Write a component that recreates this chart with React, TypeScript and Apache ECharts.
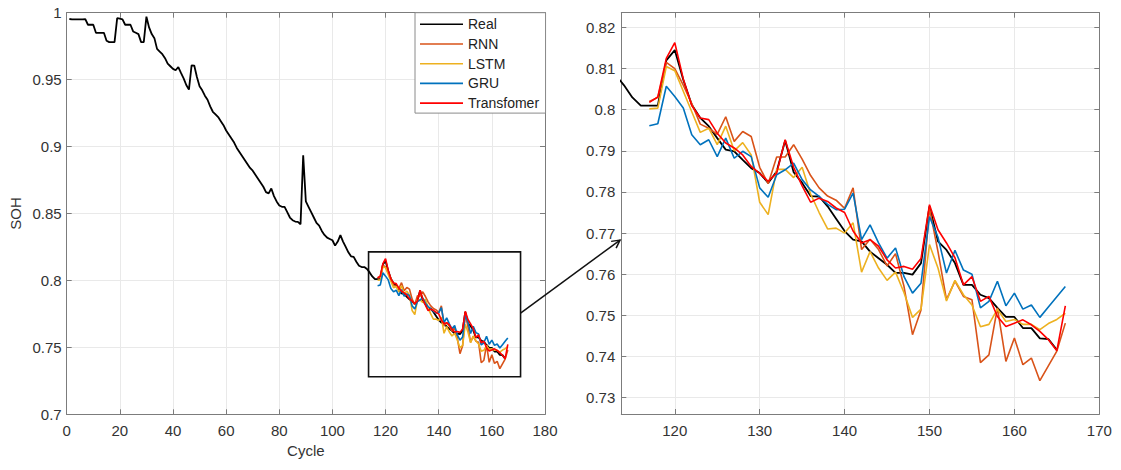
import React, { useEffect, useRef } from "react";
import * as echarts from "echarts";

// ---------- data ----------
const seriesNames = ["Real", "RNN", "LSTM", "GRU", "Transfomer"];
const seriesColors = ["#000000", "#D95319", "#EDB120", "#0072BD", "#FF0000"];

const realStartCycle = 1;
const predStartCycle = 117;

// measured SOH, cycles 1..165
const realSOH = [
  0.9953, 0.995, 0.995, 0.995, 0.995, 0.995, 0.9952, 0.991, 0.991, 0.991,
  0.985, 0.985, 0.985, 0.985, 0.979, 0.978, 0.978, 0.978, 0.996, 0.9955,
  0.995, 0.991, 0.991, 0.991, 0.986, 0.985, 0.984, 0.978, 0.978, 0.997,
  0.989, 0.984, 0.981, 0.973, 0.971, 0.969, 0.966, 0.962, 0.96, 0.958,
  0.957, 0.9594, 0.955, 0.951, 0.946, 0.9425, 0.9607, 0.9605, 0.952, 0.945,
  0.942, 0.938, 0.935, 0.93, 0.926, 0.924, 0.922, 0.919, 0.916, 0.912,
  0.909, 0.906, 0.903, 0.899, 0.896, 0.893, 0.89, 0.887, 0.884, 0.882,
  0.879, 0.876, 0.873, 0.87, 0.866, 0.865, 0.8687, 0.863, 0.859, 0.856,
  0.855, 0.855, 0.851, 0.847, 0.845, 0.844, 0.8437, 0.842, 0.8935, 0.859,
  0.855, 0.851, 0.847, 0.843, 0.841, 0.837, 0.834, 0.832, 0.831, 0.83,
  0.826, 0.829, 0.8338, 0.829, 0.825, 0.821, 0.818, 0.8176, 0.814, 0.811,
  0.81, 0.81, 0.8085, 0.806, 0.803, 0.801, 0.801, 0.801, 0.812, 0.8145,
  0.8073, 0.8012, 0.798, 0.796, 0.7931, 0.7903, 0.7899, 0.7878, 0.7858, 0.7846,
  0.7822, 0.785, 0.7925, 0.7848, 0.7822, 0.779, 0.7789, 0.7765, 0.7735, 0.7705,
  0.7684, 0.768, 0.7655, 0.7639, 0.7623, 0.7603, 0.7603, 0.7599, 0.7627, 0.7765,
  0.768, 0.7659, 0.7627, 0.7574, 0.7574, 0.755, 0.7542, 0.7518, 0.7496, 0.7496,
  0.7469, 0.7469, 0.7444, 0.7442, 0.7416,
];

// predictions, cycles 117..166
const rnnSOH = [
  0.802, 0.803, 0.8115, 0.81, 0.806, 0.8015, 0.7965, 0.7955, 0.794, 0.7983,
  0.7923, 0.7947, 0.7935, 0.786, 0.782, 0.7885, 0.7885, 0.7915, 0.788, 0.784,
  0.781, 0.779, 0.778, 0.776, 0.781, 0.766, 0.7685, 0.766, 0.762, 0.765,
  0.757, 0.7453, 0.7513, 0.776, 0.7655, 0.7538, 0.7583, 0.7546, 0.7538, 0.7385,
  0.7404, 0.7518, 0.7388, 0.7445, 0.738, 0.7396, 0.7341, 0.7377, 0.7413, 0.7481,
];
const lstmSOH = [
  0.8002, 0.8004, 0.8105, 0.8095, 0.8045, 0.7995, 0.7945, 0.7955, 0.7915, 0.796,
  0.79, 0.792, 0.789, 0.7775, 0.7745, 0.7855, 0.7855, 0.7835, 0.786, 0.7795,
  0.775, 0.771, 0.7712, 0.77, 0.7725, 0.7605, 0.7655, 0.7615, 0.7585, 0.7605,
  0.7555, 0.7495, 0.7515, 0.7672, 0.7615, 0.7535, 0.7585, 0.755, 0.7525, 0.7472,
  0.7478, 0.7515, 0.7485, 0.749, 0.7478, 0.7478, 0.7465, 0.748, 0.749, 0.7505,
];
const gruSOH = [
  0.7961, 0.7966, 0.8057, 0.8032, 0.8004, 0.7939, 0.7915, 0.7927, 0.7886, 0.7931,
  0.7882, 0.7899, 0.7886, 0.781, 0.7787, 0.7842, 0.7854, 0.787, 0.783, 0.7805,
  0.7789, 0.777, 0.7757, 0.7758, 0.7797, 0.7684, 0.772, 0.7676, 0.7639, 0.7664,
  0.7594, 0.7554, 0.7578, 0.774, 0.769, 0.7603, 0.7658, 0.761, 0.76, 0.7518,
  0.7534, 0.7583, 0.7523, 0.7554, 0.7515, 0.7525, 0.7495, 0.752, 0.7545, 0.757,
];
const transformerSOH = [
  0.8018, 0.8031, 0.8125, 0.8163, 0.8075, 0.801, 0.798, 0.7976, 0.7943, 0.7919,
  0.7907, 0.789, 0.7862, 0.7845, 0.7826, 0.7846, 0.7927, 0.786, 0.7815, 0.7775,
  0.7785, 0.7777, 0.7761, 0.775, 0.7705, 0.7676, 0.7684, 0.7668, 0.7635, 0.7615,
  0.7619, 0.7612, 0.7638, 0.7769, 0.7708, 0.7676, 0.764, 0.7574, 0.7594, 0.7534,
  0.7546, 0.7497, 0.7473, 0.7481, 0.7489, 0.7477, 0.7461, 0.7441, 0.7414, 0.7523,
];

// axis ranges
const leftX = { min: 0, max: 180, interval: 20 };
const leftY = { min: 0.7, max: 1, interval: 0.05 };
const rightX = { min: 113.7, max: 170, step: 10 };
const rightY = { min: 0.726, max: 0.8236, step: 0.01 };

// zoom box (data coords of left panel) and arrow ends
const zoomBox = { x0: 113.6, y0: 0.8213, x1: 170.8, y1: 0.7281 };
const arrowFrom = [170.8, 0.7756]; // left panel
const arrowTo = [113.55, 0.7683]; // right panel

function pairs(start: number, values: number[]) {
  return values.map((v, i) => [start + i, v]);
}

export default function App() {
  const ref = useRef<HTMLDivElement>(null);

  useEffect(() => {
    document.body.style.margin = "0";
    const chart = echarts.init(ref.current!, null, { renderer: "svg" });
    const font = "'Liberation Sans', Arial, sans-serif";
    const axisColor = "#7c7c7c";
    const labelColor = "#333333";
    const gridColor = "#e9e9e9";

    const axisLine = { show: true, onZero: false, lineStyle: { color: axisColor, width: 1 } };
    const axisTick = { show: true, inside: true, length: 5, lineStyle: { color: axisColor } };
    const label = (margin: number, extra: any = {}) => ({
      fontSize: 15,
      color: labelColor,
      fontFamily: font,
      margin,
      ...extra,
    });

    const predData = [rnnSOH, lstmSOH, gruSOH, transformerSOH];

    const series: any[] = [];
    [0, 1].forEach((g) => {
      const xi = g * 2;
      const yi = g * 2;
      series.push({
        name: seriesNames[0],
        type: "line",
        xAxisIndex: xi,
        yAxisIndex: yi,
        data: pairs(realStartCycle, realSOH),
        symbol: "none",
        showSymbol: false,
        color: seriesColors[0],
        lineStyle: { width: 1.8, color: seriesColors[0] },
        z: 2,
        markArea:
          g === 0
            ? {
                silent: true,
                itemStyle: { color: "rgba(0,0,0,0)", borderColor: "#111", borderWidth: 1.6 },
                data: [[{ coord: [zoomBox.x0, zoomBox.y0] }, { coord: [zoomBox.x1, zoomBox.y1] }]],
              }
            : undefined,
      });
      predData.forEach((d, k) => {
        series.push({
          name: seriesNames[k + 1],
          type: "line",
          xAxisIndex: xi,
          yAxisIndex: yi,
          data: pairs(predStartCycle, d),
          symbol: "none",
          showSymbol: false,
          color: seriesColors[k + 1],
          lineStyle: { width: 1.6, color: seriesColors[k + 1] },
          z: 3 + k,
        });
      });
    });

    const option: any = {
      animation: false,
      backgroundColor: "#ffffff",
      textStyle: { fontFamily: font },
      grid: [
        { left: 66.7, right: 576, top: 12.7, bottom: 55.7 },
        { left: 621.3, right: 21.7, top: 12.7, bottom: 56 },
      ],
      legend: {
        data: seriesNames,
        orient: "vertical",
        left: 415,
        top: 12.7,
        itemWidth: 43,
        itemHeight: 14,
        itemGap: 5.7,
        icon: "path://M0 0 H43 V1.6 H0 Z",
        symbolKeepAspect: true,
        padding: [4.6, 6.5, 3, 5],
        backgroundColor: "#ffffff",
        borderColor: "#8a8a8a",
        borderWidth: 1,
        borderRadius: 0,
        selectedMode: false,
        textStyle: { fontSize: 14, color: "#222222", fontFamily: font, lineHeight: 14 },
        z: 20,
      },
      xAxis: [
        {
          gridIndex: 0,
          type: "value",
          position: "bottom",
          min: leftX.min,
          max: leftX.max,
          interval: leftX.interval,
          name: "Cycle",
          nameLocation: "middle",
          nameGap: 29,
          nameTextStyle: { fontSize: 15, color: labelColor, fontFamily: font },
          axisLine,
          axisTick,
          axisLabel: label(9),
          splitLine: { show: true, lineStyle: { color: gridColor, width: 1 } },
        },
        {
          gridIndex: 0,
          type: "value",
          position: "top",
          min: leftX.min,
          max: leftX.max,
          interval: leftX.interval,
          axisLine,
          axisTick,
          axisLabel: { show: false },
          splitLine: { show: false },
        },
        {
          gridIndex: 1,
          type: "value",
          position: "bottom",
          min: rightX.min,
          max: rightX.max,
          minInterval: rightX.step,
          maxInterval: rightX.step,
          axisLine,
          axisTick,
          axisLabel: label(9, { showMinLabel: false }),
          splitLine: { show: true, lineStyle: { color: gridColor, width: 1 } },
        },
        {
          gridIndex: 1,
          type: "value",
          position: "top",
          min: rightX.min,
          max: rightX.max,
          minInterval: rightX.step,
          maxInterval: rightX.step,
          axisLine,
          axisTick,
          axisLabel: { show: false },
          splitLine: { show: false },
        },
      ],
      yAxis: [
        {
          gridIndex: 0,
          type: "value",
          position: "left",
          min: leftY.min,
          max: leftY.max,
          interval: leftY.interval,
          name: "SOH",
          nameLocation: "middle",
          nameGap: 44,
          nameTextStyle: { fontSize: 15, color: labelColor, fontFamily: font },
          axisLine,
          axisTick,
          axisLabel: label(5),
          splitLine: { show: true, lineStyle: { color: gridColor, width: 1 } },
        },
        {
          gridIndex: 0,
          type: "value",
          position: "right",
          min: leftY.min,
          max: leftY.max,
          interval: leftY.interval,
          axisLine,
          axisTick,
          axisLabel: { show: false },
          splitLine: { show: false },
        },
        {
          gridIndex: 1,
          type: "value",
          position: "left",
          min: rightY.min,
          max: rightY.max,
          minInterval: rightY.step,
          maxInterval: rightY.step,
          axisLine,
          axisTick,
          axisLabel: label(6, { showMinLabel: false, showMaxLabel: false }),
          splitLine: { show: true, lineStyle: { color: gridColor, width: 1 } },
        },
        {
          gridIndex: 1,
          type: "value",
          position: "right",
          min: rightY.min,
          max: rightY.max,
          minInterval: rightY.step,
          maxInterval: rightY.step,
          axisLine,
          axisTick,
          axisLabel: { show: false },
          splitLine: { show: false },
        },
      ],
      series,
    };

    chart.setOption(option);

    // arrow from zoom box to right panel
    const p0 = chart.convertToPixel({ gridIndex: 0 } as any, arrowFrom) as number[];
    const p1 = chart.convertToPixel({ gridIndex: 1 } as any, arrowTo) as number[];
    if (p0 && p1) {
      const dx = p1[0] - p0[0];
      const dy = p1[1] - p0[1];
      const len = Math.sqrt(dx * dx + dy * dy);
      const ux = dx / len;
      const uy = dy / len;
      const head = 9;
      const ang = (28 * Math.PI) / 180;
      const rot = (a: number) => [
        p1[0] - head * (ux * Math.cos(a) - uy * Math.sin(a)),
        p1[1] - head * (ux * Math.sin(a) + uy * Math.cos(a)),
      ];
      const h1 = rot(ang);
      const h2 = rot(-ang);
      chart.setOption({
        graphic: [
          {
            type: "line",
            shape: { x1: p0[0], y1: p0[1], x2: p1[0], y2: p1[1] },
            style: { stroke: "#111", lineWidth: 1.5 },
            z: 30,
          },
          {
            type: "polyline",
            shape: { points: [h1, p1, h2] },
            style: { stroke: "#111", lineWidth: 1.5, fill: null },
            z: 30,
          },
        ],
      });
    }

    return () => chart.dispose();
  }, []);

  return <div ref={ref} style={{ width: 1121, height: 470 }} />;
}
